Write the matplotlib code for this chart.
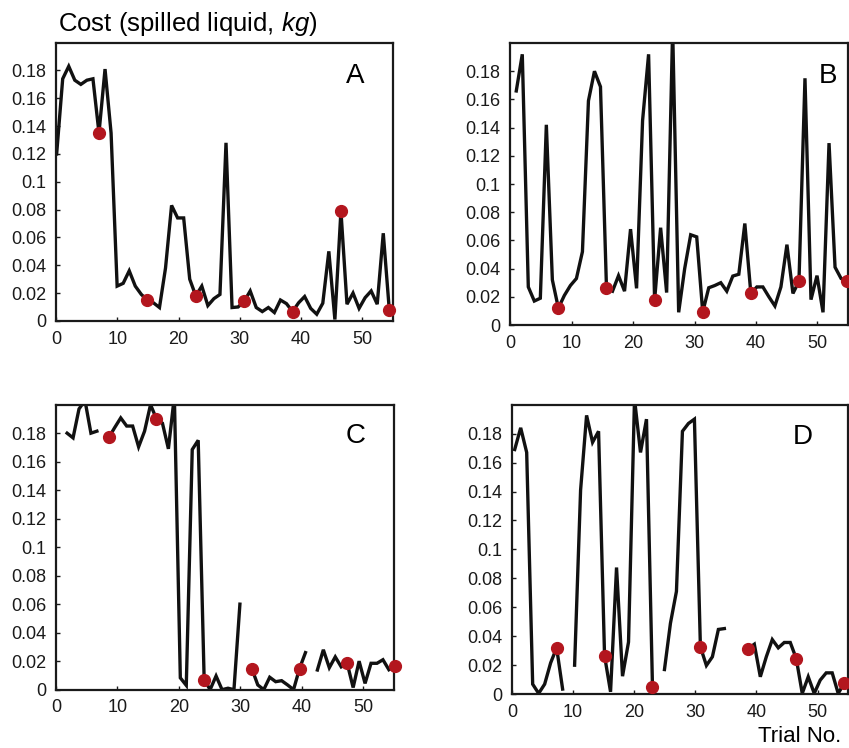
import matplotlib
matplotlib.use("Agg")
import matplotlib.pyplot as plt
import numpy

nan = numpy.nan

# spilled liquid per trial, 56 trials per condition (nan = missing trial)
cost_a = [0.12, 0.174, 0.183, 0.173, 0.170, 0.173, 0.174, 0.135, 0.181, 0.135,
          0.025, 0.027, 0.036, 0.025, 0.019, 0.015, 0.013, 0.0096, 0.038, 0.083,
          0.074, 0.074, 0.03, 0.018, 0.025, 0.011, 0.016, 0.019, 0.128, 0.0096,
          0.01, 0.014, 0.0215, 0.0096, 0.0067, 0.0096, 0.006, 0.015, 0.0124, 0.0067,
          0.013, 0.0175, 0.009, 0.0048, 0.0127, 0.05, 0.001, 0.079, 0.012, 0.02,
          0.009, 0.0167, 0.0215, 0.012, 0.063, 0.0077]
cost_b = [0.166, 0.192, 0.027, 0.017, 0.019, 0.142, 0.032, 0.012, 0.021, 0.028,
          0.033, 0.052, 0.159, 0.18, 0.169, 0.026, 0.024, 0.035, 0.024, 0.068,
          0.026, 0.145, 0.192, 0.0177, 0.069, 0.023, 0.21, 0.009, 0.04, 0.064,
          0.0625, 0.0092, 0.0264, 0.028, 0.030, 0.024, 0.0347, 0.036, 0.072, 0.0224,
          0.027, 0.027, 0.02, 0.0135, 0.027, 0.057, 0.0224, 0.031, 0.175, 0.018,
          0.035, 0.009, 0.129, 0.041, 0.033, 0.031]
cost_c = [0.18, 0.1767, 0.197, 0.203, 0.18, 0.1814, nan, 0.177, 0.184, 0.1907,
          0.185, 0.185, 0.1704, 0.1814, 0.2, 0.19, 0.187, 0.169, 0.206, 0.0083,
          0.003, 0.1685, 0.175, 0.0071, 0.0, 0.0096, 0.0, 0.001, 0.0, 0.06,
          nan, 0.0148, 0.0033, 0.0, 0.0087, 0.0056, 0.0063, 0.0033, 0.0, 0.0148,
          0.026, nan, 0.0138, 0.028, 0.0154, 0.023, 0.016, 0.0185, 0.0015, 0.02,
          0.0044, 0.0185, 0.0185, 0.021, 0.014, 0.0166]
cost_d = [0.169, 0.184, 0.167, 0.0069, 0.0005, 0.0069, 0.0216, 0.032, 0.0035, nan,
          0.02, 0.141, 0.1926, 0.174, 0.1816, 0.0265, 0.0016, 0.0875, 0.0124, 0.036,
          0.204, 0.167, 0.19, 0.005, nan, 0.017, 0.049, 0.071, 0.1816, 0.187,
          0.19, 0.0327, 0.0198, 0.0258, 0.0447, 0.0453, nan, nan, nan, 0.0315,
          0.0345, 0.012, 0.0258, 0.0377, 0.032, 0.0357, 0.0357, 0.0246, 0.0005, 0.012,
          0.0005, 0.0097, 0.0147, 0.0147, 0.0005, 0.0074]

panel_names = ["A", "B", "C", "D"]
panel_costs = [cost_a, cost_b, cost_c, cost_d]
# trial axis of each panel: first trial position and spacing
trial_start = [0.1, 0.98, 1.8, 0.45]
trial_step = [0.987, 0.979, 0.97, 0.98]
marked_trials = [7, 15, 23, 31, 39, 47, 55]  # every 8th trial gets a red dot

y_ticks = [0, 0.02, 0.04, 0.06, 0.08, 0.1, 0.12, 0.14, 0.16, 0.18]
y_tick_labels = ["0", "0.02", "0.04", "0.06", "0.08", "0.1", "0.12", "0.14", "0.16", "0.18"]
x_ticks = [0, 10, 20, 30, 40, 50]

plt.rcParams["font.family"] = ["Liberation Sans", "DejaVu Sans"]
plt.rcParams["mathtext.fontset"] = "custom"
plt.rcParams["mathtext.rm"] = "Liberation Sans"
plt.rcParams["mathtext.it"] = "Liberation Sans:italic"

figure = plt.figure(figsize=(8.49, 7.48), dpi=100)

# axes boxes in figure fractions [left, bottom, width, height]
axes_boxes = [[0.066, 0.571, 0.397, 0.372],
              [0.601, 0.5655, 0.398, 0.377],
              [0.066, 0.078, 0.398, 0.381],
              [0.603, 0.072, 0.396, 0.387]]
letter_places = [(0.887, 0.881), (0.939, 0.883), (0.888, 0.89), (0.866, 0.89)]

for number in range(4):
    axis = figure.add_axes(axes_boxes[number])
    cost = numpy.array(panel_costs[number])
    trials = trial_start[number] + trial_step[number] * numpy.arange(len(cost))
    axis.plot(trials, cost, color="#111111", linewidth=2.4, solid_joinstyle="miter")
    axis.plot(trials[marked_trials], cost[marked_trials], linestyle="none", marker="o",
              markersize=8.5, color="#b3161e", clip_on=False, zorder=5)
    axis.set_xlim(0, 55)
    axis.set_ylim(0, 0.2)
    axis.set_xticks(x_ticks)
    axis.set_yticks(y_ticks)
    axis.set_yticklabels(y_tick_labels)
    axis.tick_params(direction="in", length=3, width=1, labelsize=13, colors="#1a1a1a")
    axis.tick_params(axis="y", pad=7)
    axis.tick_params(axis="x", pad=7)
    for spine in axis.spines.values():
        spine.set_linewidth(1.6)
        spine.set_color("#1a1a1a")
    axis.text(letter_places[number][0], letter_places[number][1], panel_names[number],
              transform=axis.transAxes, fontsize=20, ha="center", va="center")

figure.text(0.068, 0.959, "Cost (spilled liquid, $kg$)", fontsize=18.5, va="baseline")
figure.text(0.893, 0.001, "Trial No.", fontsize=16, va="bottom")

figure.savefig("out.png", dpi=100)
